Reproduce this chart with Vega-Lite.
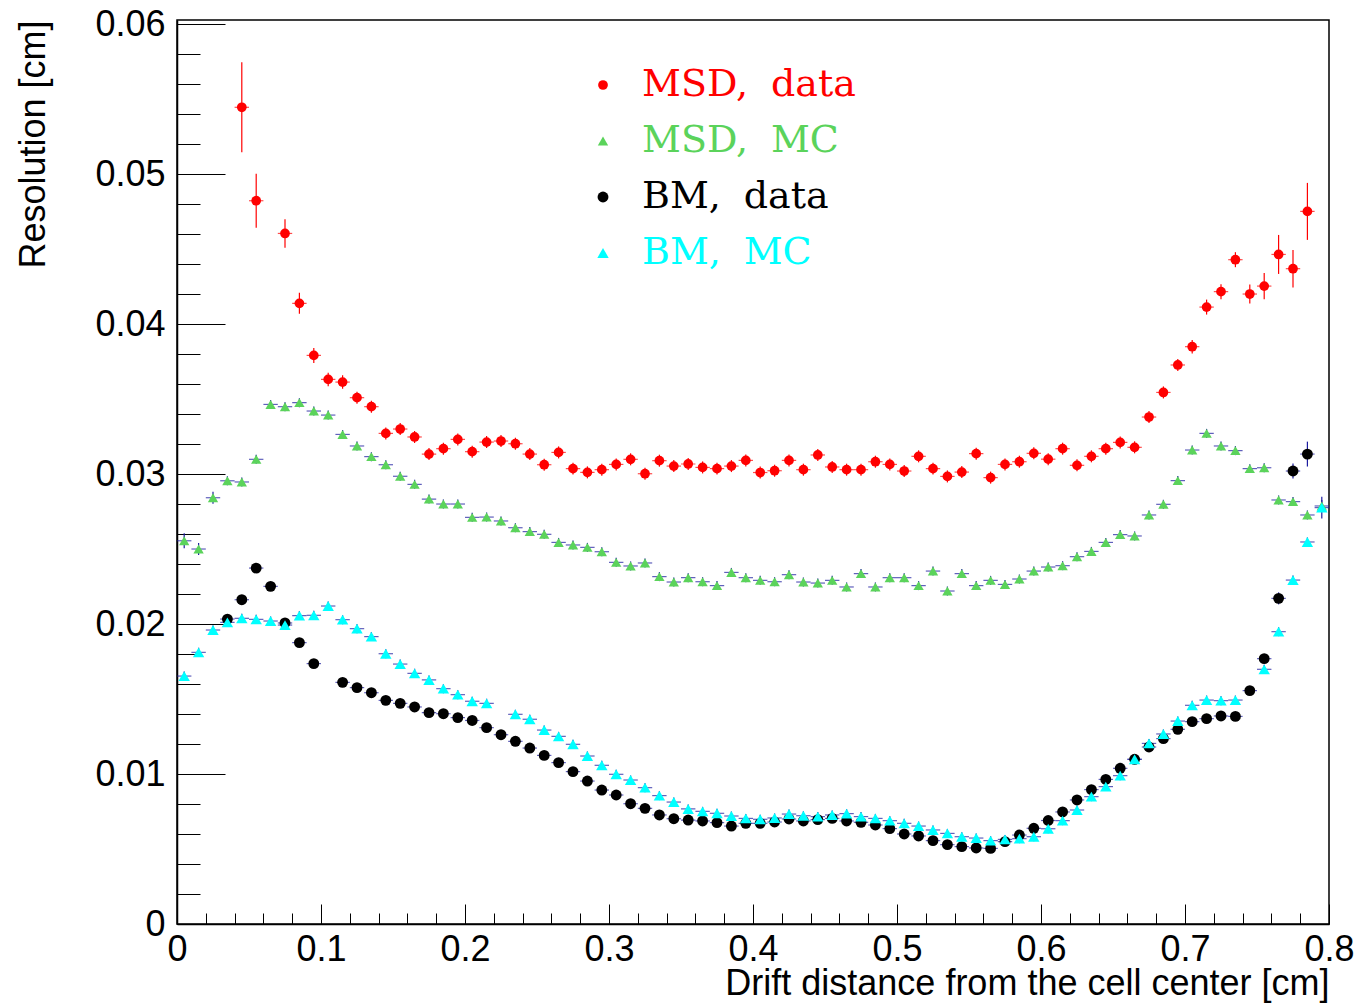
{
  "$schema": "https://vega.github.io/schema/vega-lite/v6.json",
  "width": 1152,
  "height": 904,
  "autosize": {"type": "none"},
  "padding": {"left": 177, "top": 20, "right": 32, "bottom": 81},
  "background": "#ffffff",
  "config": {
    "view": {"stroke": "#000000", "strokeWidth": 1.5},
    "axis": {"grid": false, "domainColor": "#000000", "domainWidth": 1.5, "tickColor": "#000000", "tickWidth": 1, "labelFont": "Liberation Sans", "labelFontSize": 36, "labelColor": "#000000", "titleFont": "Liberation Sans", "titleFontSize": 36, "titleFontWeight": "normal", "titleColor": "#000000", "labelFlush": false, "labelOverlap": false}
  },
  "datasets": {
    "pts": [
      {"s":"MSD, data","x":0.045,"y":0.05445,"e":0.0030},
      {"s":"MSD, data","x":0.055,"y":0.04822,"e":0.0018},
      {"s":"MSD, data","x":0.075,"y":0.04604,"e":0.00095},
      {"s":"MSD, data","x":0.085,"y":0.04138,"e":0.0007},
      {"s":"MSD, data","x":0.095,"y":0.03791,"e":0.0005},
      {"s":"MSD, data","x":0.105,"y":0.03631,"e":0.00045},
      {"s":"MSD, data","x":0.115,"y":0.03613,"e":0.00045},
      {"s":"MSD, data","x":0.125,"y":0.03509,"e":0.0004},
      {"s":"MSD, data","x":0.135,"y":0.03449,"e":0.0004},
      {"s":"MSD, data","x":0.145,"y":0.03271,"e":0.0004},
      {"s":"MSD, data","x":0.155,"y":0.03300,"e":0.0004},
      {"s":"MSD, data","x":0.165,"y":0.03247,"e":0.0004},
      {"s":"MSD, data","x":0.175,"y":0.03133,"e":0.0004},
      {"s":"MSD, data","x":0.185,"y":0.03169,"e":0.0004},
      {"s":"MSD, data","x":0.195,"y":0.03231,"e":0.0004},
      {"s":"MSD, data","x":0.205,"y":0.03149,"e":0.0004},
      {"s":"MSD, data","x":0.215,"y":0.03213,"e":0.0004},
      {"s":"MSD, data","x":0.225,"y":0.03220,"e":0.0004},
      {"s":"MSD, data","x":0.235,"y":0.03202,"e":0.0004},
      {"s":"MSD, data","x":0.245,"y":0.03133,"e":0.0004},
      {"s":"MSD, data","x":0.255,"y":0.03062,"e":0.0004},
      {"s":"MSD, data","x":0.265,"y":0.03144,"e":0.0004},
      {"s":"MSD, data","x":0.275,"y":0.03036,"e":0.0004},
      {"s":"MSD, data","x":0.285,"y":0.03011,"e":0.0004},
      {"s":"MSD, data","x":0.295,"y":0.03029,"e":0.0004},
      {"s":"MSD, data","x":0.305,"y":0.03064,"e":0.0004},
      {"s":"MSD, data","x":0.315,"y":0.03098,"e":0.0004},
      {"s":"MSD, data","x":0.325,"y":0.03002,"e":0.0004},
      {"s":"MSD, data","x":0.335,"y":0.03089,"e":0.0004},
      {"s":"MSD, data","x":0.345,"y":0.03053,"e":0.0004},
      {"s":"MSD, data","x":0.355,"y":0.03067,"e":0.0004},
      {"s":"MSD, data","x":0.365,"y":0.03044,"e":0.0004},
      {"s":"MSD, data","x":0.375,"y":0.03036,"e":0.0004},
      {"s":"MSD, data","x":0.385,"y":0.03053,"e":0.0004},
      {"s":"MSD, data","x":0.395,"y":0.03091,"e":0.0004},
      {"s":"MSD, data","x":0.405,"y":0.03010,"e":0.0004},
      {"s":"MSD, data","x":0.415,"y":0.03022,"e":0.0004},
      {"s":"MSD, data","x":0.425,"y":0.03091,"e":0.0004},
      {"s":"MSD, data","x":0.435,"y":0.03029,"e":0.0004},
      {"s":"MSD, data","x":0.445,"y":0.03127,"e":0.0004},
      {"s":"MSD, data","x":0.455,"y":0.03047,"e":0.0004},
      {"s":"MSD, data","x":0.465,"y":0.03029,"e":0.0004},
      {"s":"MSD, data","x":0.475,"y":0.03029,"e":0.0004},
      {"s":"MSD, data","x":0.485,"y":0.03082,"e":0.0004},
      {"s":"MSD, data","x":0.495,"y":0.03064,"e":0.0004},
      {"s":"MSD, data","x":0.505,"y":0.03020,"e":0.0004},
      {"s":"MSD, data","x":0.515,"y":0.03118,"e":0.0004},
      {"s":"MSD, data","x":0.525,"y":0.03036,"e":0.0004},
      {"s":"MSD, data","x":0.535,"y":0.02984,"e":0.0004},
      {"s":"MSD, data","x":0.545,"y":0.03013,"e":0.0004},
      {"s":"MSD, data","x":0.555,"y":0.03136,"e":0.0004},
      {"s":"MSD, data","x":0.565,"y":0.02976,"e":0.0004},
      {"s":"MSD, data","x":0.575,"y":0.03064,"e":0.0004},
      {"s":"MSD, data","x":0.585,"y":0.03082,"e":0.0004},
      {"s":"MSD, data","x":0.595,"y":0.03138,"e":0.0004},
      {"s":"MSD, data","x":0.605,"y":0.03099,"e":0.0004},
      {"s":"MSD, data","x":0.615,"y":0.03169,"e":0.0004},
      {"s":"MSD, data","x":0.625,"y":0.03058,"e":0.0004},
      {"s":"MSD, data","x":0.635,"y":0.03118,"e":0.0004},
      {"s":"MSD, data","x":0.645,"y":0.03169,"e":0.0004},
      {"s":"MSD, data","x":0.655,"y":0.03211,"e":0.0004},
      {"s":"MSD, data","x":0.665,"y":0.03178,"e":0.0004},
      {"s":"MSD, data","x":0.675,"y":0.03380,"e":0.0004},
      {"s":"MSD, data","x":0.685,"y":0.03544,"e":0.0004},
      {"s":"MSD, data","x":0.695,"y":0.03727,"e":0.0004},
      {"s":"MSD, data","x":0.705,"y":0.03849,"e":0.00045},
      {"s":"MSD, data","x":0.715,"y":0.04113,"e":0.0005},
      {"s":"MSD, data","x":0.725,"y":0.04216,"e":0.0005},
      {"s":"MSD, data","x":0.735,"y":0.04429,"e":0.0005},
      {"s":"MSD, data","x":0.745,"y":0.04200,"e":0.00063},
      {"s":"MSD, data","x":0.755,"y":0.04253,"e":0.00088},
      {"s":"MSD, data","x":0.765,"y":0.04464,"e":0.0013},
      {"s":"MSD, data","x":0.775,"y":0.04369,"e":0.00125},
      {"s":"MSD, data","x":0.785,"y":0.04751,"e":0.0019},

      {"s":"MSD, MC","x":0.005,"y":0.02555,"e":0.0005},
      {"s":"MSD, MC","x":0.015,"y":0.02500,"e":0.0004},
      {"s":"MSD, MC","x":0.025,"y":0.02842,"e":0.0004},
      {"s":"MSD, MC","x":0.035,"y":0.02955,"e":0.0003},
      {"s":"MSD, MC","x":0.045,"y":0.02947,"e":0.0003},
      {"s":"MSD, MC","x":0.055,"y":0.03098,"e":0.0003},
      {"s":"MSD, MC","x":0.065,"y":0.03464,"e":0.0003},
      {"s":"MSD, MC","x":0.075,"y":0.03449,"e":0.0003},
      {"s":"MSD, MC","x":0.085,"y":0.03476,"e":0.0003},
      {"s":"MSD, MC","x":0.095,"y":0.03420,"e":0.0003},
      {"s":"MSD, MC","x":0.105,"y":0.03393,"e":0.0003},
      {"s":"MSD, MC","x":0.115,"y":0.03264,"e":0.0003},
      {"s":"MSD, MC","x":0.125,"y":0.03187,"e":0.0003},
      {"s":"MSD, MC","x":0.135,"y":0.03116,"e":0.0003},
      {"s":"MSD, MC","x":0.145,"y":0.03062,"e":0.0003},
      {"s":"MSD, MC","x":0.155,"y":0.02985,"e":0.0003},
      {"s":"MSD, MC","x":0.165,"y":0.02931,"e":0.0003},
      {"s":"MSD, MC","x":0.175,"y":0.02833,"e":0.0003},
      {"s":"MSD, MC","x":0.185,"y":0.02800,"e":0.0003},
      {"s":"MSD, MC","x":0.195,"y":0.02800,"e":0.0003},
      {"s":"MSD, MC","x":0.205,"y":0.02711,"e":0.0003},
      {"s":"MSD, MC","x":0.215,"y":0.02713,"e":0.0003},
      {"s":"MSD, MC","x":0.225,"y":0.02687,"e":0.0003},
      {"s":"MSD, MC","x":0.235,"y":0.02642,"e":0.0003},
      {"s":"MSD, MC","x":0.245,"y":0.02616,"e":0.0003},
      {"s":"MSD, MC","x":0.255,"y":0.02598,"e":0.0003},
      {"s":"MSD, MC","x":0.265,"y":0.02544,"e":0.0003},
      {"s":"MSD, MC","x":0.275,"y":0.02527,"e":0.0003},
      {"s":"MSD, MC","x":0.285,"y":0.02511,"e":0.0003},
      {"s":"MSD, MC","x":0.295,"y":0.02482,"e":0.0003},
      {"s":"MSD, MC","x":0.305,"y":0.02411,"e":0.0003},
      {"s":"MSD, MC","x":0.315,"y":0.02387,"e":0.0003},
      {"s":"MSD, MC","x":0.325,"y":0.02407,"e":0.0003},
      {"s":"MSD, MC","x":0.335,"y":0.02316,"e":0.0003},
      {"s":"MSD, MC","x":0.345,"y":0.02280,"e":0.0003},
      {"s":"MSD, MC","x":0.355,"y":0.02309,"e":0.0003},
      {"s":"MSD, MC","x":0.365,"y":0.02282,"e":0.0003},
      {"s":"MSD, MC","x":0.375,"y":0.02256,"e":0.0003},
      {"s":"MSD, MC","x":0.385,"y":0.02344,"e":0.0003},
      {"s":"MSD, MC","x":0.395,"y":0.02309,"e":0.0003},
      {"s":"MSD, MC","x":0.405,"y":0.02291,"e":0.0003},
      {"s":"MSD, MC","x":0.415,"y":0.02282,"e":0.0003},
      {"s":"MSD, MC","x":0.425,"y":0.02329,"e":0.0003},
      {"s":"MSD, MC","x":0.435,"y":0.02280,"e":0.0003},
      {"s":"MSD, MC","x":0.445,"y":0.02273,"e":0.0003},
      {"s":"MSD, MC","x":0.455,"y":0.02291,"e":0.0003},
      {"s":"MSD, MC","x":0.465,"y":0.02247,"e":0.0003},
      {"s":"MSD, MC","x":0.475,"y":0.02336,"e":0.0003},
      {"s":"MSD, MC","x":0.485,"y":0.02247,"e":0.0003},
      {"s":"MSD, MC","x":0.495,"y":0.02309,"e":0.0003},
      {"s":"MSD, MC","x":0.505,"y":0.02309,"e":0.0003},
      {"s":"MSD, MC","x":0.515,"y":0.02256,"e":0.0003},
      {"s":"MSD, MC","x":0.525,"y":0.02353,"e":0.0003},
      {"s":"MSD, MC","x":0.535,"y":0.02220,"e":0.0003},
      {"s":"MSD, MC","x":0.545,"y":0.02336,"e":0.0003},
      {"s":"MSD, MC","x":0.555,"y":0.02256,"e":0.0003},
      {"s":"MSD, MC","x":0.565,"y":0.02291,"e":0.0003},
      {"s":"MSD, MC","x":0.575,"y":0.02264,"e":0.0003},
      {"s":"MSD, MC","x":0.585,"y":0.02300,"e":0.0003},
      {"s":"MSD, MC","x":0.595,"y":0.02353,"e":0.0003},
      {"s":"MSD, MC","x":0.605,"y":0.02380,"e":0.0003},
      {"s":"MSD, MC","x":0.615,"y":0.02389,"e":0.0003},
      {"s":"MSD, MC","x":0.625,"y":0.02449,"e":0.0003},
      {"s":"MSD, MC","x":0.635,"y":0.02484,"e":0.0003},
      {"s":"MSD, MC","x":0.645,"y":0.02544,"e":0.0003},
      {"s":"MSD, MC","x":0.655,"y":0.02596,"e":0.0003},
      {"s":"MSD, MC","x":0.665,"y":0.02587,"e":0.0003},
      {"s":"MSD, MC","x":0.675,"y":0.02727,"e":0.0003},
      {"s":"MSD, MC","x":0.685,"y":0.02798,"e":0.0003},
      {"s":"MSD, MC","x":0.695,"y":0.02956,"e":0.0003},
      {"s":"MSD, MC","x":0.705,"y":0.03160,"e":0.0003},
      {"s":"MSD, MC","x":0.715,"y":0.03271,"e":0.0003},
      {"s":"MSD, MC","x":0.725,"y":0.03187,"e":0.0003},
      {"s":"MSD, MC","x":0.735,"y":0.03156,"e":0.0003},
      {"s":"MSD, MC","x":0.745,"y":0.03036,"e":0.0003},
      {"s":"MSD, MC","x":0.755,"y":0.03042,"e":0.0003},
      {"s":"MSD, MC","x":0.765,"y":0.02827,"e":0.0003},
      {"s":"MSD, MC","x":0.775,"y":0.02816,"e":0.0003},
      {"s":"MSD, MC","x":0.785,"y":0.02727,"e":0.0003},
      {"s":"MSD, MC","x":0.795,"y":0.02787,"e":0.0004},

      {"s":"BM, data","x":0.035,"y":0.02033,"e":0.0003},
      {"s":"BM, data","x":0.045,"y":0.02162,"e":0.0003},
      {"s":"BM, data","x":0.055,"y":0.02373,"e":0.0003},
      {"s":"BM, data","x":0.065,"y":0.02251,"e":0.0003},
      {"s":"BM, data","x":0.075,"y":0.02007,"e":0.0003},
      {"s":"BM, data","x":0.085,"y":0.01876,"e":0.0003},
      {"s":"BM, data","x":0.095,"y":0.01736,"e":0.0003},
      {"s":"BM, data","x":0.115,"y":0.01611,"e":0.0003},
      {"s":"BM, data","x":0.125,"y":0.01576,"e":0.0003},
      {"s":"BM, data","x":0.135,"y":0.01542,"e":0.0003},
      {"s":"BM, data","x":0.145,"y":0.01491,"e":0.0003},
      {"s":"BM, data","x":0.155,"y":0.01471,"e":0.0003},
      {"s":"BM, data","x":0.165,"y":0.01447,"e":0.0003},
      {"s":"BM, data","x":0.175,"y":0.01409,"e":0.0003},
      {"s":"BM, data","x":0.185,"y":0.01402,"e":0.0003},
      {"s":"BM, data","x":0.195,"y":0.01376,"e":0.0003},
      {"s":"BM, data","x":0.205,"y":0.01357,"e":0.0003},
      {"s":"BM, data","x":0.215,"y":0.01309,"e":0.0003},
      {"s":"BM, data","x":0.225,"y":0.01262,"e":0.0003},
      {"s":"BM, data","x":0.235,"y":0.01218,"e":0.0003},
      {"s":"BM, data","x":0.245,"y":0.01173,"e":0.0003},
      {"s":"BM, data","x":0.255,"y":0.01124,"e":0.0003},
      {"s":"BM, data","x":0.265,"y":0.01076,"e":0.0003},
      {"s":"BM, data","x":0.275,"y":0.01016,"e":0.0003},
      {"s":"BM, data","x":0.285,"y":0.00953,"e":0.0003},
      {"s":"BM, data","x":0.295,"y":0.00893,"e":0.0003},
      {"s":"BM, data","x":0.305,"y":0.00860,"e":0.0003},
      {"s":"BM, data","x":0.315,"y":0.00802,"e":0.0003},
      {"s":"BM, data","x":0.325,"y":0.00771,"e":0.0003},
      {"s":"BM, data","x":0.335,"y":0.00727,"e":0.0003},
      {"s":"BM, data","x":0.345,"y":0.00702,"e":0.0003},
      {"s":"BM, data","x":0.355,"y":0.00693,"e":0.0003},
      {"s":"BM, data","x":0.365,"y":0.00687,"e":0.0003},
      {"s":"BM, data","x":0.375,"y":0.00676,"e":0.0003},
      {"s":"BM, data","x":0.385,"y":0.00653,"e":0.0003},
      {"s":"BM, data","x":0.395,"y":0.00671,"e":0.0003},
      {"s":"BM, data","x":0.405,"y":0.00671,"e":0.0003},
      {"s":"BM, data","x":0.415,"y":0.00680,"e":0.0003},
      {"s":"BM, data","x":0.425,"y":0.00700,"e":0.0003},
      {"s":"BM, data","x":0.435,"y":0.00687,"e":0.0003},
      {"s":"BM, data","x":0.445,"y":0.00696,"e":0.0003},
      {"s":"BM, data","x":0.455,"y":0.00704,"e":0.0003},
      {"s":"BM, data","x":0.465,"y":0.00687,"e":0.0003},
      {"s":"BM, data","x":0.475,"y":0.00678,"e":0.0003},
      {"s":"BM, data","x":0.485,"y":0.00660,"e":0.0003},
      {"s":"BM, data","x":0.495,"y":0.00636,"e":0.0003},
      {"s":"BM, data","x":0.505,"y":0.00600,"e":0.0003},
      {"s":"BM, data","x":0.515,"y":0.00587,"e":0.0003},
      {"s":"BM, data","x":0.525,"y":0.00556,"e":0.0003},
      {"s":"BM, data","x":0.535,"y":0.00529,"e":0.0003},
      {"s":"BM, data","x":0.545,"y":0.00516,"e":0.0003},
      {"s":"BM, data","x":0.555,"y":0.00507,"e":0.0003},
      {"s":"BM, data","x":0.565,"y":0.00504,"e":0.0003},
      {"s":"BM, data","x":0.575,"y":0.00549,"e":0.0003},
      {"s":"BM, data","x":0.585,"y":0.00593,"e":0.0003},
      {"s":"BM, data","x":0.595,"y":0.00638,"e":0.0003},
      {"s":"BM, data","x":0.605,"y":0.00690,"e":0.0003},
      {"s":"BM, data","x":0.615,"y":0.00747,"e":0.0003},
      {"s":"BM, data","x":0.625,"y":0.00827,"e":0.0003},
      {"s":"BM, data","x":0.635,"y":0.00896,"e":0.0003},
      {"s":"BM, data","x":0.645,"y":0.00964,"e":0.0003},
      {"s":"BM, data","x":0.655,"y":0.01038,"e":0.0003},
      {"s":"BM, data","x":0.665,"y":0.01098,"e":0.0003},
      {"s":"BM, data","x":0.675,"y":0.01180,"e":0.0003},
      {"s":"BM, data","x":0.685,"y":0.01236,"e":0.0003},
      {"s":"BM, data","x":0.695,"y":0.01298,"e":0.0003},
      {"s":"BM, data","x":0.705,"y":0.01349,"e":0.0003},
      {"s":"BM, data","x":0.715,"y":0.01369,"e":0.0003},
      {"s":"BM, data","x":0.725,"y":0.01387,"e":0.0003},
      {"s":"BM, data","x":0.735,"y":0.01384,"e":0.0003},
      {"s":"BM, data","x":0.745,"y":0.01556,"e":0.0003},
      {"s":"BM, data","x":0.755,"y":0.01769,"e":0.0003},
      {"s":"BM, data","x":0.765,"y":0.02171,"e":0.0004},
      {"s":"BM, data","x":0.775,"y":0.03020,"e":0.0005},
      {"s":"BM, data","x":0.785,"y":0.03133,"e":0.00083},

      {"s":"BM, MC","x":0.005,"y":0.01653,"e":0.0003},
      {"s":"BM, MC","x":0.015,"y":0.01811,"e":0.0003},
      {"s":"BM, MC","x":0.025,"y":0.01960,"e":0.0003},
      {"s":"BM, MC","x":0.035,"y":0.02011,"e":0.0003},
      {"s":"BM, MC","x":0.045,"y":0.02038,"e":0.0003},
      {"s":"BM, MC","x":0.055,"y":0.02031,"e":0.0003},
      {"s":"BM, MC","x":0.065,"y":0.02020,"e":0.0003},
      {"s":"BM, MC","x":0.075,"y":0.01993,"e":0.0003},
      {"s":"BM, MC","x":0.085,"y":0.02056,"e":0.0003},
      {"s":"BM, MC","x":0.095,"y":0.02058,"e":0.0003},
      {"s":"BM, MC","x":0.105,"y":0.02120,"e":0.0003},
      {"s":"BM, MC","x":0.115,"y":0.02029,"e":0.0003},
      {"s":"BM, MC","x":0.125,"y":0.01969,"e":0.0003},
      {"s":"BM, MC","x":0.135,"y":0.01916,"e":0.0003},
      {"s":"BM, MC","x":0.145,"y":0.01802,"e":0.0003},
      {"s":"BM, MC","x":0.155,"y":0.01733,"e":0.0003},
      {"s":"BM, MC","x":0.165,"y":0.01671,"e":0.0003},
      {"s":"BM, MC","x":0.175,"y":0.01627,"e":0.0003},
      {"s":"BM, MC","x":0.185,"y":0.01569,"e":0.0003},
      {"s":"BM, MC","x":0.195,"y":0.01529,"e":0.0003},
      {"s":"BM, MC","x":0.205,"y":0.01485,"e":0.0003},
      {"s":"BM, MC","x":0.215,"y":0.01471,"e":0.0003},
      {"s":"BM, MC","x":0.235,"y":0.01398,"e":0.0003},
      {"s":"BM, MC","x":0.245,"y":0.01365,"e":0.0003},
      {"s":"BM, MC","x":0.255,"y":0.01293,"e":0.0003},
      {"s":"BM, MC","x":0.265,"y":0.01251,"e":0.0003},
      {"s":"BM, MC","x":0.275,"y":0.01198,"e":0.0003},
      {"s":"BM, MC","x":0.285,"y":0.01120,"e":0.0003},
      {"s":"BM, MC","x":0.295,"y":0.01058,"e":0.0003},
      {"s":"BM, MC","x":0.305,"y":0.00998,"e":0.0003},
      {"s":"BM, MC","x":0.315,"y":0.00960,"e":0.0003},
      {"s":"BM, MC","x":0.325,"y":0.00909,"e":0.0003},
      {"s":"BM, MC","x":0.335,"y":0.00856,"e":0.0003},
      {"s":"BM, MC","x":0.345,"y":0.00813,"e":0.0003},
      {"s":"BM, MC","x":0.355,"y":0.00767,"e":0.0003},
      {"s":"BM, MC","x":0.365,"y":0.00751,"e":0.0003},
      {"s":"BM, MC","x":0.375,"y":0.00738,"e":0.0003},
      {"s":"BM, MC","x":0.385,"y":0.00720,"e":0.0003},
      {"s":"BM, MC","x":0.395,"y":0.00704,"e":0.0003},
      {"s":"BM, MC","x":0.405,"y":0.00698,"e":0.0003},
      {"s":"BM, MC","x":0.415,"y":0.00707,"e":0.0003},
      {"s":"BM, MC","x":0.425,"y":0.00733,"e":0.0003},
      {"s":"BM, MC","x":0.435,"y":0.00722,"e":0.0003},
      {"s":"BM, MC","x":0.445,"y":0.00716,"e":0.0003},
      {"s":"BM, MC","x":0.455,"y":0.00727,"e":0.0003},
      {"s":"BM, MC","x":0.465,"y":0.00736,"e":0.0003},
      {"s":"BM, MC","x":0.475,"y":0.00716,"e":0.0003},
      {"s":"BM, MC","x":0.485,"y":0.00704,"e":0.0003},
      {"s":"BM, MC","x":0.495,"y":0.00689,"e":0.0003},
      {"s":"BM, MC","x":0.505,"y":0.00671,"e":0.0003},
      {"s":"BM, MC","x":0.515,"y":0.00653,"e":0.0003},
      {"s":"BM, MC","x":0.525,"y":0.00627,"e":0.0003},
      {"s":"BM, MC","x":0.535,"y":0.00604,"e":0.0003},
      {"s":"BM, MC","x":0.545,"y":0.00582,"e":0.0003},
      {"s":"BM, MC","x":0.555,"y":0.00573,"e":0.0003},
      {"s":"BM, MC","x":0.565,"y":0.00556,"e":0.0003},
      {"s":"BM, MC","x":0.575,"y":0.00564,"e":0.0003},
      {"s":"BM, MC","x":0.585,"y":0.00569,"e":0.0003},
      {"s":"BM, MC","x":0.595,"y":0.00582,"e":0.0003},
      {"s":"BM, MC","x":0.605,"y":0.00635,"e":0.0003},
      {"s":"BM, MC","x":0.615,"y":0.00689,"e":0.0003},
      {"s":"BM, MC","x":0.625,"y":0.00760,"e":0.0003},
      {"s":"BM, MC","x":0.635,"y":0.00849,"e":0.0003},
      {"s":"BM, MC","x":0.645,"y":0.00916,"e":0.0003},
      {"s":"BM, MC","x":0.655,"y":0.00989,"e":0.0003},
      {"s":"BM, MC","x":0.665,"y":0.01098,"e":0.0003},
      {"s":"BM, MC","x":0.675,"y":0.01204,"e":0.0003},
      {"s":"BM, MC","x":0.685,"y":0.01267,"e":0.0003},
      {"s":"BM, MC","x":0.695,"y":0.01353,"e":0.0003},
      {"s":"BM, MC","x":0.705,"y":0.01458,"e":0.0003},
      {"s":"BM, MC","x":0.715,"y":0.01493,"e":0.0003},
      {"s":"BM, MC","x":0.725,"y":0.01489,"e":0.0003},
      {"s":"BM, MC","x":0.735,"y":0.01493,"e":0.0003},
      {"s":"BM, MC","x":0.755,"y":0.01698,"e":0.0003},
      {"s":"BM, MC","x":0.765,"y":0.01949,"e":0.0003},
      {"s":"BM, MC","x":0.775,"y":0.02293,"e":0.0003},
      {"s":"BM, MC","x":0.785,"y":0.02547,"e":0.0003},
      {"s":"BM, MC","x":0.795,"y":0.02776,"e":0.00072}
    ]
  },
  "data": {"name": "pts"},
  "encoding": {
    "x": {
      "field": "x", "type": "quantitative",
      "scale": {"domain": [0, 0.8], "nice": false, "zero": false},
      "axis": {
        "title": "Drift distance from the cell center [cm]",
        "values": [0,0.02,0.04,0.06,0.08,0.1,0.12,0.14,0.16,0.18,0.2,0.22,0.24,0.26,0.28,0.3,0.32,0.34,0.36,0.38,0.4,0.42,0.44,0.46,0.48,0.5,0.52,0.54,0.56,0.58,0.6,0.62,0.64,0.66,0.68,0.7,0.72,0.74,0.76,0.78,0.8],
        "tickSize": {"condition": {"test": "abs(datum.value*10 - round(datum.value*10)) < 1e-6", "value": -20}, "value": -11},
        "labelExpr": "abs(datum.value*10 - round(datum.value*10)) < 1e-6 ? format(datum.value, '.1~f') : ''",
        "labelPadding": 28,
        "titleAnchor": "end", "titleAlign": "right", "titleBaseline": "alphabetic",
        "titleX": 1152, "titleY": 70
      }
    },
    "y": {
      "field": "y", "type": "quantitative",
      "scale": {"domain": [0, 0.06027], "nice": false, "zero": true},
      "axis": {
        "title": "Resolution [cm]",
        "values": [0,0.002,0.004,0.006,0.008,0.01,0.012,0.014,0.016,0.018,0.02,0.022,0.024,0.026,0.028,0.03,0.032,0.034,0.036,0.038,0.04,0.042,0.044,0.046,0.048,0.05,0.052,0.054,0.056,0.058,0.06],
        "tickSize": {"condition": {"test": "abs(datum.value*100 - round(datum.value*100)) < 1e-6", "value": -48}, "value": -23},
        "labelExpr": "abs(datum.value*100 - round(datum.value*100)) < 1e-6 ? format(datum.value, '.2~f') : ''",
        "labelPadding": 60,
        "titleAnchor": "end", "titleAlign": "right", "titleBaseline": "alphabetic", "titleAngle": -90,
        "titleX": -133, "titleY": 0
      }
    }
  },
  "layer": [
    {
      "mark": {"type": "tick", "orient": "horizontal", "size": 14.4, "thickness": 1.2},
      "encoding": {
        "color": {"condition": {"test": "datum.s === 'MSD, data'", "value": "#ff0000"}, "value": "#1c1ca0"}
      }
    },
    {
      "transform": [{"filter": "datum.s === 'MSD, data'"}],
      "mark": {"type": "errorbar", "ticks": false, "color": "#ff0000", "thickness": 1.2},
      "encoding": {"yError": {"field": "e"}}
    },
    {
      "transform": [{"filter": "datum.s !== 'MSD, data'"}],
      "mark": {"type": "errorbar", "ticks": false, "color": "#1c1ca0", "thickness": 1.2},
      "encoding": {"yError": {"field": "e"}}
    },
    {
      "mark": {"type": "point", "filled": true, "opacity": 1, "strokeWidth": 0},
      "encoding": {
        "color": {
          "field": "s", "type": "nominal",
          "scale": {"domain": ["MSD, data", "MSD, MC", "BM, data", "BM, MC"], "range": ["#ff0000", "#5bd35b", "#000000", "#00ffff"]},
          "legend": {
            "orient": "none", "legendX": 407, "legendY": 46, "title": null, "direction": "vertical", "padding": 0,
            "labelFont": "DejaVu Serif", "labelFontSize": 38, "labelOffset": 20, "labelLimit": 500, "rowPadding": 18,
            "symbolSize": 80, "symbolStrokeWidth": 0,
            "labelExpr": "replace(datum.label, ', ', ',\u2002\u200a')",
            "labelColor": {"expr": "datum.value === 'MSD, data' ? '#ff0000' : datum.value === 'MSD, MC' ? '#5bd35b' : datum.value === 'BM, data' ? '#000000' : '#00ffff'"}
          }
        },
        "shape": {
          "field": "s", "type": "nominal",
          "scale": {"domain": ["MSD, data", "MSD, MC", "BM, data", "BM, MC"], "range": ["circle", "triangle-up", "circle", "triangle-up"]},
          "legend": null
        },
        "size": {
          "field": "s", "type": "nominal",
          "scale": {"domain": ["MSD, data", "MSD, MC", "BM, data", "BM, MC"], "range": [95, 130, 95, 130]},
          "legend": null
        }
      }
    }
  ]
}
